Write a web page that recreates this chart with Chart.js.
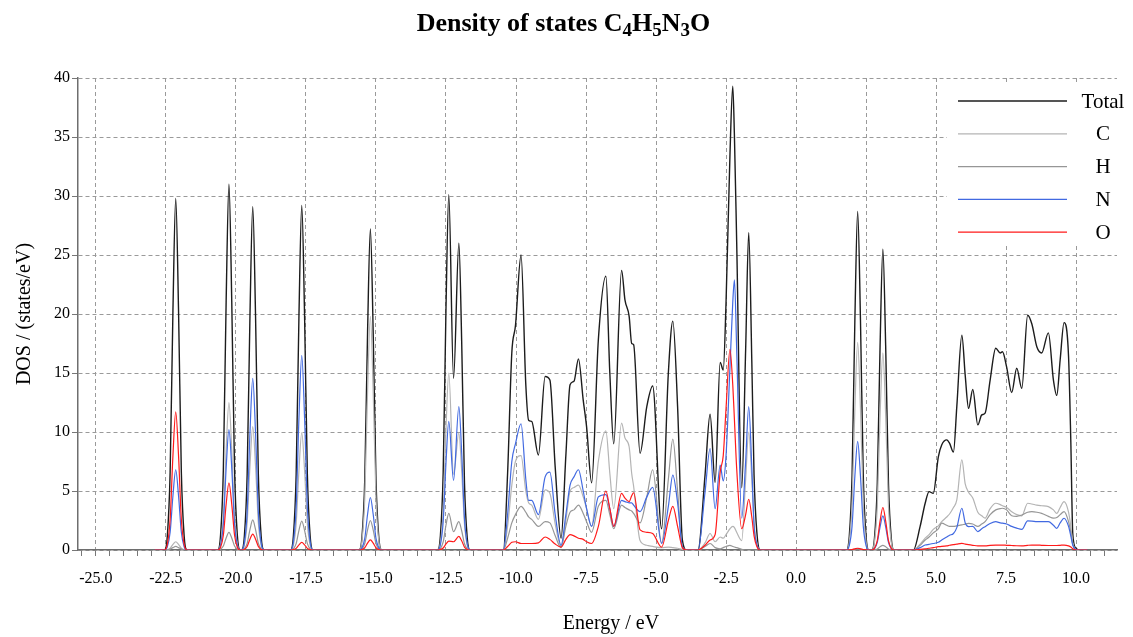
<!DOCTYPE html>
<html>
<head>
<meta charset="utf-8">
<script src="https://cdn.jsdelivr.net/npm/chart.js@4.4.0/dist/chart.umd.min.js"></script>
<style>
  body { margin: 0; background: #fff; }
  #wrap { position: relative; width: 1133px; height: 637px; }
  #title {
    position: absolute; top: 8px; left: -3px; width: 1133px; text-align: center;
    font: bold 26px "Liberation Serif", "Times New Roman", serif; color: #000;
  }
  #title sub { font-size: 19px; vertical-align: -5px; line-height: 0; }
  canvas { position: absolute; top: 0; left: 0; }
</style>
</head>
<body>
<div id="wrap">
  <canvas id="dos" width="1133" height="637"></canvas>
  <div id="title">Density of states C<sub>4</sub>H<sub>5</sub>N<sub>3</sub>O</div>
</div>
<script>
// ------- DATA (energy in eV, DOS in states/eV) -------
const energy = [
  -22.9,
  -22.55, -22.45, -22.35, -22.25, -22.15, -22.05, -21.95, -21.85, -21.75,
  -20.65, -20.55, -20.45, -20.35, -20.25, -20.15, -20.05, -19.95, -19.85,
  -19.8, -19.7, -19.6, -19.5, -19.4, -19.3, -19.2, -19.1, -19.0,
  -18.05, -17.95, -17.85, -17.75, -17.65, -17.55, -17.45, -17.35, -17.25,
  -15.6, -15.5, -15.4, -15.3, -15.2, -15.1, -15.0, -14.9, -14.8,
  -12.8, -12.7, -12.6, -12.5, -12.4, -12.23, -12.04, -11.94, -11.84, -11.74, -11.64,
  -10.45, -10.30, -10.15, -10.02, -9.82, -9.65, -9.55, -9.44, -9.20, -8.96, -8.79, -8.60, -8.39,
  -8.22, -8.07, -7.93, -7.77, -7.60, -7.48, -7.30, -7.06, -6.79, -6.65, -6.51, -6.23, -6.11,
  -5.96, -5.87, -5.80, -5.57, -5.33, -5.12, -4.80, -4.56, -4.40, -4.23, -4.06, -3.90,
  -3.50, -3.25, -3.07, -2.89, -2.71, -2.60, -2.50, -2.36, -2.26, -2.20, -2.12, -1.94, -1.80,
  -1.69, -1.58, -1.50, -1.40, -1.28,
  1.8, 1.9, 2.0, 2.1, 2.2, 2.3, 2.4, 2.5, 2.6,
  2.7, 2.8, 2.9, 3.0, 3.1, 3.2, 3.3, 3.4, 3.5,
  4.19, 4.43, 4.61, 4.75, 4.90, 5.08, 5.20, 5.38, 5.48, 5.62, 5.74, 5.92, 6.04, 6.16, 6.31,
  6.49, 6.63, 6.75, 6.93, 7.13, 7.29, 7.37, 7.52, 7.70, 7.88, 8.06, 8.27, 8.42, 8.60, 8.77,
  9.01, 9.19, 9.31, 9.43, 9.57, 9.73, 9.81, 9.88, 9.99, 10.10,
  10.4
];

const dosTotal = [
  0,
  0, 1.2, 6.6, 20.3, 29.8, 20.3, 6.6, 1.2, 0,
  0, 1.24, 6.8, 21.1, 31.0, 21.1, 6.8, 1.24, 0,
  0, 1.16, 6.4, 19.8, 29.1, 19.8, 6.4, 1.16, 0,
  0, 1.17, 6.4, 19.9, 29.2, 19.9, 6.4, 1.17, 0,
  0, 1.09, 6.0, 18.5, 27.2, 18.5, 6.0, 1.09, 0,
  0, 1.2, 6.6, 20.5, 30.1, 14.55, 26.0, 17.7, 5.7, 1.0, 0,
  0, 6.5, 16.7, 19.0, 25.0, 14.0, 11.0, 10.9, 8.05, 14.7, 14.4, 7.0, 1.0,
  8.0, 14.0, 14.3, 16.2, 12.7, 10.45, 5.7, 17.8, 23.2, 15.0, 9.0, 23.7, 21.2,
  19.8, 17.5, 17.4, 8.2, 12.15, 13.9, 1.8, 15.0, 19.4, 12.15, 0.85, 0,
  0, 6.35, 11.5, 5.73, 15.9, 15.25, 21.0, 33.5, 39.3, 35.0, 26.1, 5.28, 17.0,
  26.9, 16.0, 6.35, 1.5, 0,
  0, 1.15, 6.3, 19.5, 28.7, 19.5, 6.3, 1.15, 0,
  0, 1.0, 5.6, 17.3, 25.5, 17.3, 5.6, 1.0, 0,
  0, 2.0, 3.96, 4.95, 4.8, 7.9, 8.9, 9.33, 9.05, 8.3, 12.15, 18.2, 14.8, 12.0, 13.6,
  10.6, 11.45, 11.6, 14.4, 17.1, 16.7, 16.8, 15.5, 13.35, 15.4, 13.7, 19.9, 19.15, 17.2, 16.7,
  18.4, 14.4, 13.1, 16.1, 19.27, 16.4, 9.3, 1.4, 0.15, 0,
  0
];

const dosC = [
  0,
  0, 0.03, 0.15, 0.48, 0.7, 0.48, 0.15, 0.03, 0,
  0, 0.5, 2.75, 8.5, 12.5, 8.5, 2.75, 0.5, 0,
  0, 0.42, 2.3, 7.1, 10.45, 7.1, 2.3, 0.42, 0,
  0, 0.4, 2.19, 6.77, 9.95, 6.77, 2.19, 0.4, 0,
  0, 0.79, 4.36, 13.46, 19.8, 13.46, 4.36, 0.79, 0,
  0, 0.6, 3.3, 10.3, 15.0, 6.4, 9.9, 6.7, 2.2, 0.4, 0,
  0, 2.0, 5.5, 7.5, 8.0, 5.0, 4.0, 3.8, 2.6, 5.1, 4.8, 2.2, 0.3,
  2.5, 5.0, 5.3, 5.5, 4.5, 3.5, 2.0, 7.5, 10.1, 6.5, 3.5, 10.75, 9.5,
  8.75, 6.5, 5.4, 0.8, 0.4, 0.3, 0.2, 0.25, 0.2, 0.15, 0.05, 0,
  0, 0.6, 1.4, 0.7, 1.1, 1.0, 1.3, 1.8, 2.0, 1.9, 1.5, 0.8, 6.0,
  10.0, 6.0, 2.3, 0.5, 0,
  0, 0.7, 3.87, 11.97, 17.6, 11.97, 3.87, 0.7, 0,
  0, 0.67, 3.67, 11.36, 16.7, 11.36, 3.67, 0.67, 0,
  0, 0.5, 1.0, 1.3, 1.75, 2.05, 2.4, 2.8, 3.05, 3.6, 4.24, 7.63, 5.6, 4.9, 4.4,
  3.2, 2.9, 2.7, 3.5, 3.96, 3.85, 3.75, 3.6, 3.25, 3.0, 2.9, 3.96, 3.9, 3.8, 3.75,
  3.68, 3.4, 3.1, 3.6, 4.1, 3.2, 2.0, 0.6, 0.05, 0,
  0
];

const dosH = [
  0,
  0, 0.01, 0.07, 0.2, 0.3, 0.2, 0.07, 0.01, 0,
  0, 0.06, 0.33, 1.02, 1.5, 1.02, 0.33, 0.06, 0,
  0, 0.1, 0.56, 1.73, 2.55, 1.73, 0.56, 0.1, 0,
  0, 0.1, 0.54, 1.67, 2.45, 1.67, 0.54, 0.1, 0,
  0, 0.1, 0.55, 1.7, 2.5, 1.7, 0.55, 0.1, 0,
  0, 0.12, 0.68, 2.1, 3.1, 1.55, 2.4, 1.63, 0.53, 0.1, 0,
  0, 1.0, 2.3, 3.0, 3.7, 3.2, 2.8, 2.6, 2.0, 2.4, 2.3, 1.2, 0.2,
  2.0, 3.2, 3.4, 3.8, 3.1, 2.4, 1.5, 3.7, 4.2, 3.0, 1.8, 3.8, 3.6,
  3.4, 3.3, 3.1, 2.3, 4.5, 6.8, 0.6, 6.0, 9.4, 5.0, 0.2, 0,
  0, 0.3, 0.55, 0.2, 0.1, 0.2, 0.3, 0.4, 0.3, 0.25, 0.2, 0.05, 0,
  0, 0, 0, 0, 0,
  0, 0, 0.02, 0.07, 0.1, 0.07, 0.02, 0, 0,
  0, 0.02, 0.09, 0.27, 0.4, 0.27, 0.09, 0.02, 0,
  0, 0.4, 0.85, 1.1, 1.45, 1.8, 2.27, 2.1, 2.0, 2.0, 2.05, 2.13, 2.2, 2.25, 2.2,
  2.0, 2.2, 2.4, 3.0, 3.4, 3.5, 3.54, 3.4, 2.9, 2.85, 2.97, 3.2, 3.25, 3.2, 3.1,
  2.85, 2.7, 2.75, 3.0, 3.25, 2.4, 1.5, 0.5, 0.05, 0,
  0
];

const dosN = [
  0,
  0, 0.27, 1.5, 4.6, 6.8, 4.6, 1.5, 0.27, 0,
  0, 0.41, 2.24, 6.94, 10.2, 6.94, 2.24, 0.41, 0,
  0, 0.58, 3.2, 9.9, 14.55, 9.9, 3.2, 0.58, 0,
  0, 0.66, 3.63, 11.22, 16.5, 11.22, 3.63, 0.66, 0,
  0, 0.18, 0.98, 3.03, 4.45, 3.03, 0.98, 0.18, 0,
  0, 0.44, 2.4, 7.4, 10.9, 5.9, 12.15, 8.26, 2.67, 0.49, 0,
  0, 3.0, 7.5, 9.0, 10.7, 6.0, 4.2, 4.2, 3.0, 6.2, 6.6, 3.0, 0.4,
  3.0, 5.5, 6.2, 6.8, 5.0, 3.5, 2.0, 4.5, 4.7, 3.5, 2.0, 4.2, 4.1,
  4.0, 4.0, 3.8, 3.25, 4.5, 5.3, 0.55, 3.7, 6.35, 4.0, 0.3, 0,
  0, 4.9, 8.6, 3.5, 7.2, 5.85, 8.0, 15.5, 21.0, 22.9, 17.0, 2.7, 7.5,
  12.15, 7.0, 2.1, 0.5, 0,
  0, 0.37, 2.02, 6.26, 9.2, 6.26, 2.02, 0.37, 0,
  0, 0.12, 0.64, 1.97, 2.9, 1.97, 0.64, 0.12, 0,
  0, 0.2, 0.42, 0.48, 0.55, 0.65, 0.85, 1.1, 1.25, 1.4, 1.9, 3.54, 2.3, 1.98, 2.0,
  1.56, 1.8, 1.98, 2.25, 2.4, 2.3, 2.27, 2.2, 2.0, 1.85, 1.75, 2.46, 2.45, 2.4, 2.4,
  2.4, 2.1, 1.84, 2.3, 2.69, 2.0, 1.2, 0.4, 0.05, 0,
  0
];

const dosO = [
  0,
  0, 0.47, 2.6, 8.0, 11.7, 8.0, 2.6, 0.47, 0,
  0, 0.23, 1.25, 3.88, 5.7, 3.88, 1.25, 0.23, 0,
  0, 0.05, 0.3, 0.92, 1.35, 0.92, 0.3, 0.05, 0,
  0, 0.03, 0.14, 0.44, 0.65, 0.44, 0.14, 0.03, 0,
  0, 0.03, 0.19, 0.58, 0.85, 0.58, 0.19, 0.03, 0,
  0, 0.03, 0.17, 0.51, 0.75, 0.7, 1.15, 0.78, 0.25, 0.05, 0,
  0, 0.3, 0.65, 0.7, 0.55, 0.55, 0.55, 0.55, 0.6, 1.1, 0.9, 0.5, 0.25,
  0.9, 1.3, 1.2, 1.0, 0.9, 0.7, 0.55, 2.0, 5.0, 3.5, 2.0, 4.8, 4.4,
  4.1, 4.6, 4.85, 1.7, 1.5, 1.4, 0.25, 2.5, 3.7, 2.0, 0.2, 0,
  0, 0.4, 0.85, 1.3, 6.6, 8.0, 12.0, 17.0, 14.0, 11.0, 6.9, 1.8, 3.0,
  4.3, 2.8, 1.2, 0.3, 0,
  0, 0.01, 0.03, 0.1, 0.15, 0.1, 0.03, 0.01, 0,
  0, 0.14, 0.79, 2.45, 3.6, 2.45, 0.79, 0.14, 0,
  0, 0.05, 0.1, 0.15, 0.2, 0.28, 0.3, 0.35, 0.4, 0.45, 0.5, 0.56, 0.5, 0.45, 0.4,
  0.35, 0.35, 0.35, 0.4, 0.42, 0.42, 0.42, 0.4, 0.38, 0.36, 0.35, 0.4, 0.42, 0.42, 0.4,
  0.38, 0.38, 0.38, 0.4, 0.42, 0.35, 0.25, 0.1, 0, 0,
  0
];

const xMajorTicks = [-25, -22.5, -20, -17.5, -15, -12.5, -10, -7.5, -5, -2.5, 0, 2.5, 5, 7.5, 10];
const yTicks = [0, 5, 10, 15, 20, 25, 30, 35, 40];
const xTitle = 'Energy / eV';
const yTitle = 'DOS / (states/eV)';

// minor ticks every 0.5 eV inside the axis range
const xAllTicks = [];
for (let v = -25.5; v <= 11.0; v += 0.5) xAllTicks.push(v);

const serif = '"Liberation Serif", "Times New Roman", serif';

function series(label, values, color, width, order) {
  return {
    label: label,
    data: energy.map((e, i) => ({ x: e, y: values[i] })),
    borderColor: color,
    borderWidth: width,
    order: order,
    fill: false
  };
}

// ------- AXIS TITLES + LEGEND IN A WHITE BOX -------
const extras = {
  id: 'extras',
  afterDraw(chart) {
    const ctx = chart.ctx;
    ctx.save();
    ctx.fillStyle = '#000';
    ctx.font = '20px ' + serif;
    ctx.textAlign = 'center';
    ctx.textBaseline = 'middle';
    ctx.fillText(xTitle, 611, 624);
    ctx.translate(25, 314);
    ctx.rotate(-Math.PI / 2);
    ctx.fillText(yTitle, 0, 0);
    ctx.restore();

    ctx.save();
    ctx.fillStyle = '#fff';
    ctx.fillRect(947, 82, 186, 161);
    chart.data.datasets.forEach((ds, i) => {
      const y = 101 + i * 32.8;
      ctx.strokeStyle = ds.borderColor;
      ctx.lineWidth = 1.3;
      ctx.beginPath();
      ctx.moveTo(958, y);
      ctx.lineTo(1067, y);
      ctx.stroke();
      ctx.fillStyle = '#000';
      ctx.font = '21px ' + serif;
      ctx.textAlign = 'center';
      ctx.textBaseline = 'middle';
      ctx.fillText(ds.label, 1103, y + 1);
    });
    ctx.restore();
  }
};

new Chart(document.getElementById('dos'), {
  type: 'line',
  data: {
    datasets: [
      series('Total', dosTotal, '#1c1c1c', 1.4, 5),
      series('C', dosC, '#b4b4b4', 1.2, 4),
      series('H', dosH, '#969696', 1.2, 3),
      series('N', dosN, '#4169e1', 1.2, 2),
      series('O', dosO, '#ff1a1a', 1.2, 1)
    ]
  },
  options: {
    responsive: false,
    animation: false,
    layout: { padding: { top: 78, right: 16, left: 0, bottom: 0 } },
    elements: {
      point: { radius: 0 },
      line: { cubicInterpolationMode: 'monotone' }
    },
    plugins: { legend: { display: false }, tooltip: { enabled: false } },
    scales: {
      x: {
        type: 'linear',
        min: -25.64,
        max: 11.46,
        afterBuildTicks: ax => { ax.ticks = xAllTicks.map(v => ({ value: v })); },
        afterFit: ax => { ax.height = 87; },
        ticks: {
          autoSkip: false,
          maxRotation: 0,
          padding: 13,
          color: '#000',
          font: { family: serif, size: 16 },
          callback: v => xMajorTicks.includes(v) ? v.toFixed(1) : ''
        },
        grid: {
          color: c => (c.tick && xMajorTicks.includes(c.tick.value)) ? '#9a9a9a' : 'rgba(0,0,0,0)',
          tickColor: '#777',
          tickLength: 6,
          lineWidth: 1
        },
        border: { color: '#6e6e6e', width: 1.5, dash: [4, 3] }
      },
      y: {
        min: 0,
        max: 40,
        afterBuildTicks: ax => { ax.ticks = yTicks.map(v => ({ value: v })); },
        afterFit: ax => { ax.width = 78; },
        ticks: {
          padding: 2,
          color: '#000',
          font: { family: serif, size: 16 }
        },
        grid: { color: '#9a9a9a', tickColor: '#777', tickLength: 6, lineWidth: 1 },
        border: { color: '#6e6e6e', width: 1.5, dash: [4, 3] }
      }
    }
  },
  plugins: [extras]
});
</script>
</body>
</html>
